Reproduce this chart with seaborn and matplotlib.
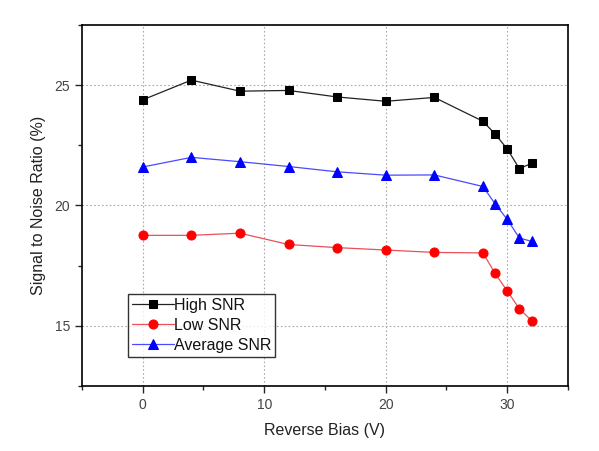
import matplotlib
matplotlib.use("Agg")
import matplotlib.pyplot as plt
from matplotlib.ticker import MultipleLocator
import seaborn as sns
import pandas as pd

# Dữ liệu
bias = [0, 4, 8, 12, 16, 20, 24, 28, 29, 30, 31, 32]
high_snr = [24.39, 25.21, 24.75, 24.78, 24.51, 24.33, 24.49, 23.50, 22.97, 22.35, 21.53, 21.75]
low_snr = [18.76, 18.76, 18.85, 18.38, 18.25, 18.15, 18.05, 18.03, 17.18, 16.45, 15.71, 15.22]
avg_snr = [21.60, 22.00, 21.82, 21.62, 21.40, 21.26, 21.27, 20.79, 20.07, 19.42, 18.65, 18.51]
series_names = ["High SNR", "Low SNR", "Average SNR"]

df = pd.concat([
    pd.DataFrame({"bias": bias, "snr": vals, "series": name})
    for name, vals in zip(series_names, [high_snr, low_snr, avg_snr])
])

sns.set_style("white")
plt.rcParams['font.family'] = ['Liberation Sans', 'DejaVu Sans']

fig = plt.figure(figsize=(5.99, 4.51), dpi=100)
ax = fig.add_axes([0.1369, 0.1441, 0.8113, 0.8005])

palette = {"High SNR": "black", "Low SNR": "#ff0000", "Average SNR": "#0000ff"}
markers = {"High SNR": "s", "Low SNR": "o", "Average SNR": "^"}
msize = {"High SNR": 5.5, "Low SNR": 6.5, "Average SNR": 7}
line_colors = {"High SNR": "#222222", "Low SNR": "#e8505a", "Average SNR": "#4a4aff"}

for name in series_names:
    sub = df[df["series"] == name]
    sns.lineplot(data=sub, x="bias", y="snr", ax=ax, color=line_colors[name],
                 marker=markers[name], markersize=msize[name],
                 markerfacecolor=palette[name], markeredgecolor=palette[name],
                 linewidth=0.9, label=name)

ax.set_xlim(-5, 35)
ax.set_ylim(12.5, 27.5)
ax.xaxis.set_major_locator(MultipleLocator(10))
ax.xaxis.set_minor_locator(MultipleLocator(5))
ax.yaxis.set_major_locator(MultipleLocator(5))
ax.yaxis.set_minor_locator(MultipleLocator(2.5))
ax.grid(True, which="major", linestyle=(0, (1.5, 2)), color="#aaaaaa", linewidth=0.8)
ax.tick_params(which="major", direction="out", length=5, width=1, labelsize=10,
               labelcolor="#444444", bottom=True, left=True)
ax.tick_params(which="minor", direction="out", length=3, width=1, bottom=True, left=True)
for sp in ax.spines.values():
    sp.set_color("black")
    sp.set_linewidth(1.2)

ax.set_xlabel("Reverse Bias (V)", fontsize=11.5, color="#222222", labelpad=8)
ax.set_ylabel("Signal to Noise Ratio (%)", fontsize=11.5, color="#222222", labelpad=6)

leg = ax.legend(loc="lower left", bbox_to_anchor=(0.0947, 0.0803), borderaxespad=0,
                fontsize=11.5, frameon=True, fancybox=False, edgecolor="black",
                handlelength=2.6, handletextpad=0.0, labelspacing=0.32, borderpad=0.25)
leg.get_frame().set_linewidth(1.0)
for t in leg.get_texts():
    t.set_color("#111111")

fig.savefig("out.png", dpi=100)
